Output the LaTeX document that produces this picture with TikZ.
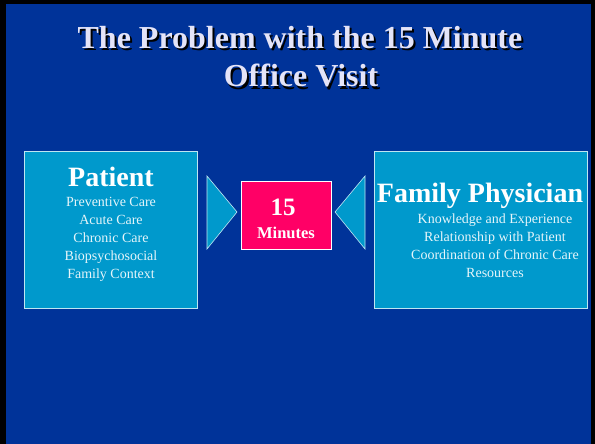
\documentclass[tikz,border=0pt]{standalone}
\usepackage{fontspec}
\setmainfont{Liberation Serif}
\definecolor{slideblue}{RGB}{0,51,153}
\definecolor{boxblue}{RGB}{0,153,204}
\definecolor{boxpink}{RGB}{255,0,102}
\definecolor{titlelav}{RGB}{228,228,248}
\tikzset{
	panel/.style={fill=boxblue, draw=white!75!boxblue, line width=0.8pt},
	wedge/.style={fill=boxblue, draw=white!75!boxblue, line width=0.6pt},
	heading/.style={text=white, font=\bfseries\fontsize{28}{32}\selectfont, inner sep=0pt, anchor=base},
	itemlist/.style={text=white!90!boxblue, font=\fontsize{14}{17.8}\selectfont, align=center, inner sep=0pt, anchor=base},
	titletext/.style={font=\bfseries\fontsize{32}{38}\selectfont, inner sep=0pt, anchor=base}
}
\begin{document}
\begin{tikzpicture}[x=1pt,y=-1pt]
			\fill[black] (0,0) rectangle (595,444);
			\fill[slideblue] (6,4) rectangle (591,444);

			\node (ts1)[titletext, text=black]at (302,51)  {The Problem with the 15 Minute};
			\node (t1)[titletext, text=titlelav]at (300,49)  {The Problem with the 15 Minute};
			\node (ts2)[titletext, text=black]at (303,89)  {Office Visit};
			\node (t2)[titletext, text=titlelav]at (301,87)  {Office Visit};

			\draw[panel] (24,151) rectangle (197,308);
			\node (p)[heading]at (111,186)  {Patient};
			\node (pl)[itemlist]at (111,278)  {Preventive Care\\Acute Care\\Chronic Care\\Biopsychosocial\\Family Context};

			\draw[wedge] (207,176)--(237,212)--(207,249)--cycle;

			\draw[fill=boxpink, draw=white, line width=0.8pt] (241,181) rectangle (331,249);
			\node (m)[heading, font=\bfseries\fontsize{25}{28}\selectfont]at (283,215)  {15};
			\node (mn)[heading, font=\bfseries\fontsize{16.5}{18}\selectfont]at (286,238)  {Minutes};

			\draw[wedge] (365,176)--(335,212)--(365,249)--cycle;

			\draw[panel] (374,151) rectangle (587,308);
			\node (f)[heading]at (480,202)  {Family Physician};
			\node (fl)[itemlist]at (495,277)  {Knowledge and Experience\\Relationship with Patient\\Coordination of Chronic Care\\Resources};
		\end{tikzpicture}
\end{document}
